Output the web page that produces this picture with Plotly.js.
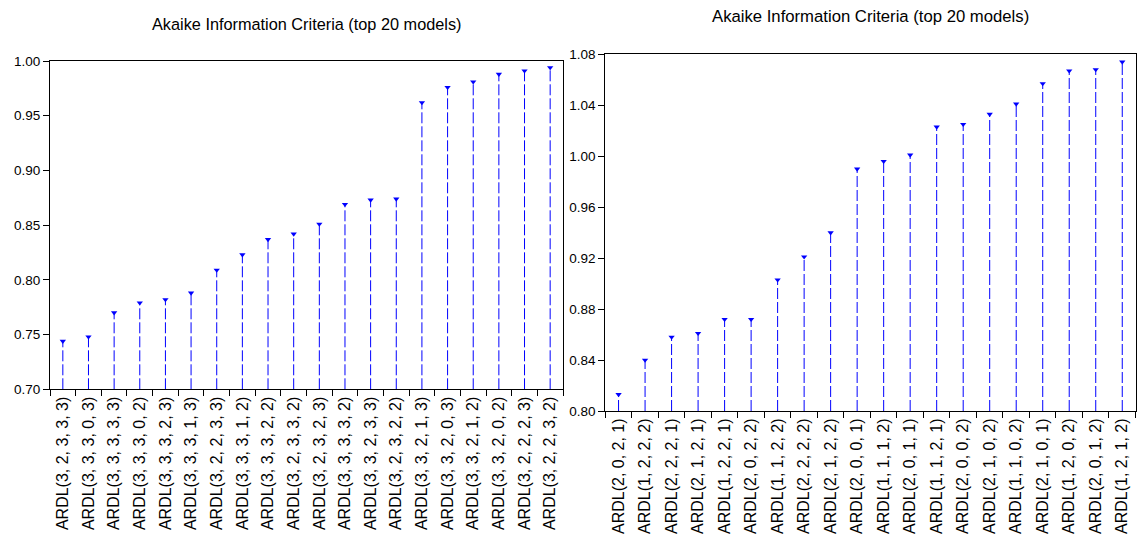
<!DOCTYPE html>
<html>
<head>
<meta charset="utf-8">
<script src="https://cdn.plot.ly/plotly-3.0.1.min.js"></script>
<style>
  html, body { margin: 0; padding: 0; background: #ffffff; }
  #chart { width: 1137px; height: 550px; }
</style>
</head>
<body>
<div id="chart"></div>
<script>
// ---- Data ----
const leftModels = [
  "ARDL(3, 2, 3, 3, 3)", "ARDL(3, 3, 3, 0, 3)", "ARDL(3, 3, 3, 3, 3)", "ARDL(3, 3, 3, 0, 2)",
  "ARDL(3, 3, 3, 2, 3)", "ARDL(3, 3, 3, 1, 3)", "ARDL(3, 2, 2, 3, 3)", "ARDL(3, 3, 3, 1, 2)",
  "ARDL(3, 3, 3, 2, 2)", "ARDL(3, 2, 3, 3, 2)", "ARDL(3, 2, 3, 2, 3)", "ARDL(3, 3, 3, 3, 2)",
  "ARDL(3, 3, 2, 3, 3)", "ARDL(3, 2, 3, 2, 2)", "ARDL(3, 3, 2, 1, 3)", "ARDL(3, 3, 2, 0, 3)",
  "ARDL(3, 3, 2, 1, 2)", "ARDL(3, 3, 2, 0, 2)", "ARDL(3, 2, 2, 2, 3)", "ARDL(3, 2, 2, 3, 2)"
];
const leftAIC = [
  0.744, 0.748, 0.770, 0.779, 0.782, 0.788, 0.809, 0.823, 0.837, 0.842,
  0.851, 0.869, 0.873, 0.874, 0.962, 0.976, 0.981, 0.988, 0.991, 0.994
];
const rightModels = [
  "ARDL(2, 0, 2, 1)", "ARDL(1, 2, 2, 2)", "ARDL(2, 2, 2, 1)", "ARDL(2, 1, 2, 1)",
  "ARDL(1, 2, 2, 1)", "ARDL(2, 0, 2, 2)", "ARDL(1, 1, 2, 2)", "ARDL(2, 2, 2, 2)",
  "ARDL(2, 1, 2, 2)", "ARDL(2, 0, 0, 1)", "ARDL(1, 1, 1, 2)", "ARDL(2, 0, 1, 1)",
  "ARDL(1, 1, 2, 1)", "ARDL(2, 0, 0, 2)", "ARDL(2, 1, 0, 2)", "ARDL(1, 1, 0, 2)",
  "ARDL(2, 1, 0, 1)", "ARDL(1, 2, 0, 2)", "ARDL(2, 0, 1, 2)", "ARDL(1, 2, 1, 2)"
];
const rightAIC = [
  0.813, 0.840, 0.858, 0.861, 0.872, 0.872, 0.903, 0.921, 0.940, 0.990,
  0.996, 1.001, 1.023, 1.025, 1.033, 1.041, 1.057, 1.067, 1.068, 1.074
];
const leftTicks = [0.70, 0.75, 0.80, 0.85, 0.90, 0.95, 1.00];
const rightTicks = [0.80, 0.84, 0.88, 0.92, 0.96, 1.00, 1.04, 1.08];
const chartTitle = "Akaike Information Criteria (top 20 models)";

// ---- Styling ----
const BLUE = "#0000ff";
const FONT = "Liberation Sans, Arial, Helvetica, sans-serif";
const leftRange = [leftTicks[0], leftTicks[leftTicks.length - 1]];
const rightRange = [rightTicks[0], rightTicks[rightTicks.length - 1]];

function stems(cats, vals, base, xa, ya) {
  const xs = [], ys = [];
  cats.forEach((c, i) => { xs.push(c, c, null); ys.push(base, vals[i], null); });
  return {
    type: "scatter", mode: "lines", x: xs, y: ys, xaxis: xa, yaxis: ya,
    line: { color: BLUE, width: 1, dash: "11px,3px" },
    hoverinfo: "skip", showlegend: false, connectgaps: false
  };
}
function marks(cats, vals, xa, ya) {
  return {
    type: "scatter", mode: "markers", x: cats, y: vals, xaxis: xa, yaxis: ya,
    marker: { symbol: "triangle-down", size: 5.5, color: BLUE, line: { width: 0 } },
    showlegend: false
  };
}

const data = [
  stems(leftModels, leftAIC, leftRange[0], "x", "y"),
  marks(leftModels, leftAIC, "x", "y"),
  stems(rightModels, rightAIC, rightRange[0], "x2", "y2"),
  marks(rightModels, rightAIC, "x2", "y2")
];

const W = 1137, H = 550;
function xAxis(cats, dom) {
  return {
    domain: dom, type: "category", categoryorder: "array", categoryarray: cats,
    range: [-0.5, cats.length - 0.5], tickson: "boundaries",
    ticks: "outside", ticklen: 6, tickcolor: "#000", tickwidth: 1,
    tickangle: -90, tickfont: { family: FONT, size: 16, color: "#000" },
    showline: true, linecolor: "#000", linewidth: 1, mirror: true,
    showgrid: false, zeroline: false, automargin: false, fixedrange: true
  };
}
function yAxis(range, ticks, dom, anchor) {
  return {
    domain: dom, anchor: anchor, range: range, tickvals: ticks,
    ticktext: ticks.map(v => v.toFixed(2)),
    ticks: "outside", ticklen: 6, tickcolor: "#000", tickwidth: 1,
    tickfont: { family: FONT, size: 13.5, color: "#000" },
    showline: true, linecolor: "#000", linewidth: 1, mirror: true,
    showgrid: false, zeroline: false, automargin: false, fixedrange: true
  };
}

const lx = [50 / W, 563 / W], ly = [1 - 389.3 / H, 1 - 61 / H];
const rx = [605.3 / W, 1135.5 / W], ry = [1 - 411 / H, 1 - 54.3 / H];

const layout = {
  width: W, height: H,
  margin: { l: 0, r: 0, t: 0, b: 0, pad: 0 },
  paper_bgcolor: "#ffffff", plot_bgcolor: "#ffffff",
  showlegend: false,
  font: { family: FONT, color: "#000" },
  xaxis: Object.assign(xAxis(leftModels, lx), { anchor: "y" }),
  yaxis: yAxis(leftRange, leftTicks, ly, "x"),
  xaxis2: Object.assign(xAxis(rightModels, rx), { anchor: "y2" }),
  yaxis2: yAxis(rightRange, rightTicks, ry, "x2"),
  annotations: [
    { text: chartTitle, xref: "paper", yref: "paper", x: (lx[0] + lx[1]) / 2, y: 1 - 24 / H,
      xanchor: "center", yanchor: "middle", showarrow: false,
      font: { family: FONT, size: 16.3, color: "#000" } },
    { text: chartTitle, xref: "paper", yref: "paper", x: (rx[0] + rx[1]) / 2, y: 1 - 17 / H,
      xanchor: "center", yanchor: "middle", showarrow: false,
      font: { family: FONT, size: 16.7, color: "#000" } }
  ]
};

Plotly.newPlot("chart", data, layout, { staticPlot: true, displayModeBar: false });
</script>
</body>
</html>
